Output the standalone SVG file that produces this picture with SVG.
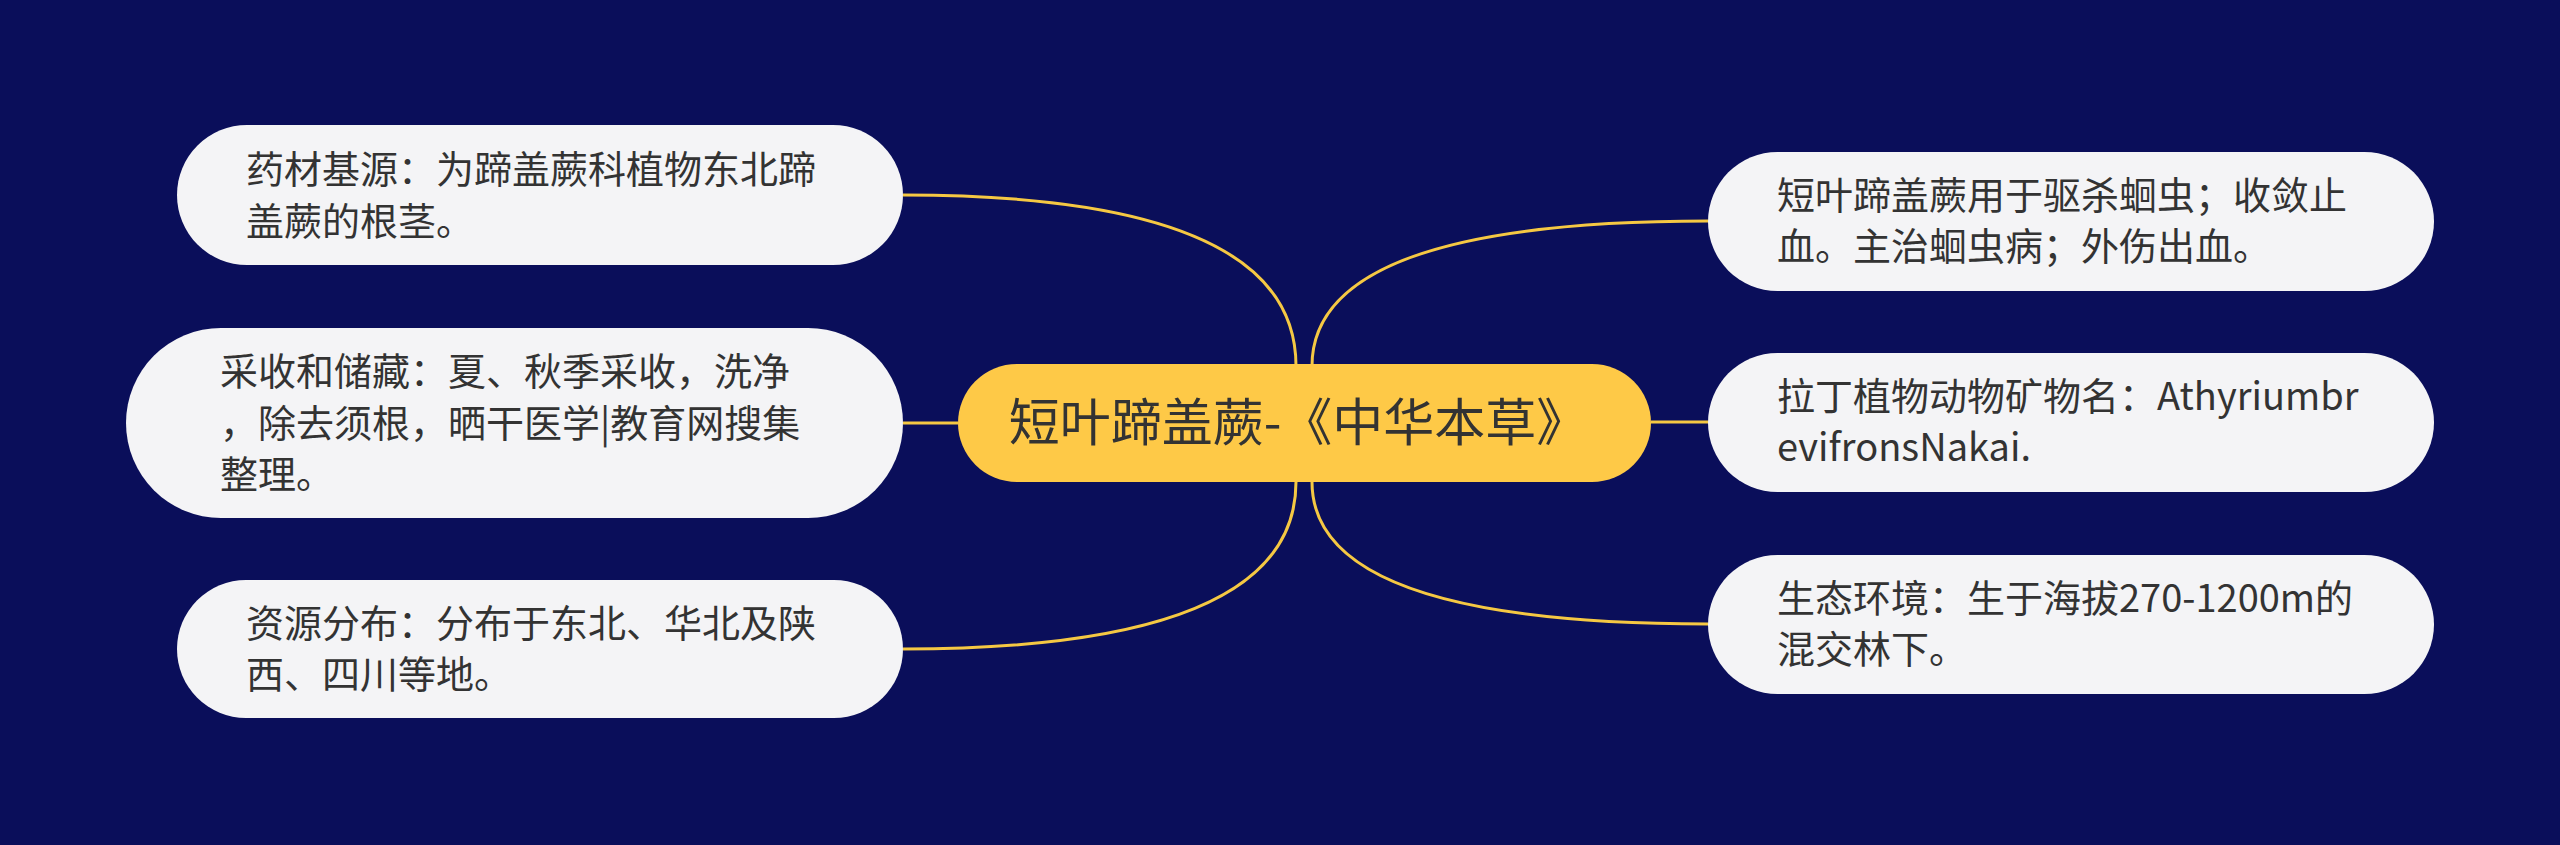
<svg xmlns="http://www.w3.org/2000/svg" width="2560" height="845" viewBox="0 0 2560 845">
<style>
.bg{fill:#0a0e5a}
.leaf{fill:#f4f4f6}
.root{fill:#fec947}
.conn{fill:none;stroke:#f5c843;stroke-width:3}
.t{font-family:"Noto Sans CJK SC","Noto Sans",sans-serif;font-size:38px;fill:#333333}
.tr{font-family:"Noto Sans CJK SC","Noto Sans",sans-serif;font-size:51px;fill:#333333;text-anchor:middle}
</style>
<rect class="bg" x="0" y="0" width="2560" height="845"/>
<g id="connectors">
<path class="conn" d="M1296 366 Q1296 195 903 195"/>
<path class="conn" d="M958 423 L903 423"/>
<path class="conn" d="M1296 482 Q1296 649 903 649"/>
<path class="conn" d="M1312 366 Q1312 221 1708 221"/>
<path class="conn" d="M1651 422 L1708 422"/>
<path class="conn" d="M1312 482 Q1312 624 1708 624"/>
</g>
<g id="root">
<rect class="root" x="958" y="364" width="693" height="118" rx="59"/>
<text class="tr" x="1298" y="441">短叶蹄盖蕨-《中华本草》</text>
</g>
<g id="n1">
<rect class="leaf" x="177" y="125" width="726" height="140" rx="70"/>
<text class="t" x="246" y="183">药材基源：为蹄盖蕨科植物东北蹄</text>
<text class="t" x="246" y="235">盖蕨的根茎。</text>
</g>
<g id="n2">
<rect class="leaf" x="126" y="328" width="777" height="190" rx="95"/>
<text class="t" x="220" y="385">采收和储藏：夏、秋季采收，洗净</text>
<text class="t" x="220" y="437">，除去须根，晒干医学|教育网搜集</text>
<text class="t" x="220" y="488">整理。</text>
</g>
<g id="n3">
<rect class="leaf" x="177" y="580" width="726" height="138" rx="69"/>
<text class="t" x="246" y="637">资源分布：分布于东北、华北及陕</text>
<text class="t" x="246" y="688">西、四川等地。</text>
</g>
<g id="n4">
<rect class="leaf" x="1708" y="152" width="726" height="139" rx="69.5"/>
<text class="t" x="1777" y="209">短叶蹄盖蕨用于驱杀蛔虫；收敛止</text>
<text class="t" x="1777" y="260">血。主治蛔虫病；外伤出血。</text>
</g>
<g id="n5">
<rect class="leaf" x="1708" y="353" width="726" height="139" rx="69.5"/>
<text class="t" x="1777" y="410">拉丁植物动物矿物名：Athyriumbr</text>
<text class="t" x="1777" y="461">evifronsNakai.</text>
</g>
<g id="n6">
<rect class="leaf" x="1708" y="555" width="726" height="139" rx="69.5"/>
<text class="t" x="1777" y="612">生态环境：生于海拔270-1200m的</text>
<text class="t" x="1777" y="663">混交林下。</text>
</g>
</svg>
